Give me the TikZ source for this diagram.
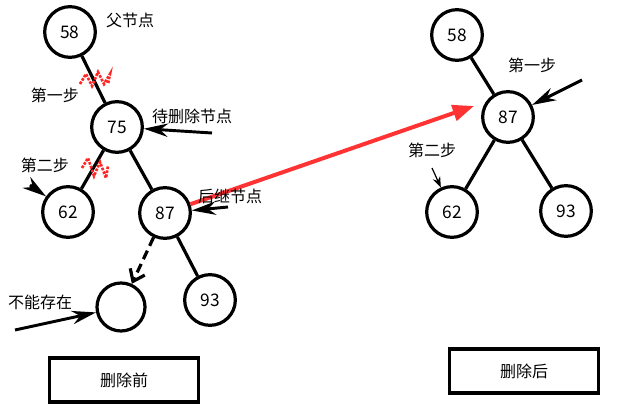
\documentclass[tikz,border=0pt]{standalone}
\usepackage{fontspec}
\setmainfont{Noto Sans CJK SC}
\usetikzlibrary{arrows.meta}
\tikzset{
  key/.style={circle,draw,line width=2.4pt,minimum size=38pt,inner sep=0pt,font=\fontsize{13}{15}\selectfont},
  hole/.style={circle,draw,line width=2.4pt,minimum size=36pt},
  link/.style={line width=2.4pt},
  hint/.style={-{Stealth[length=18pt,width=10pt]},line width=2.2pt},
  caption/.style={draw,line width=2.6pt,minimum width=112pt,minimum height=33pt,font=\fontsize{12}{14}\selectfont},
  note/.style={font=\fontsize{12}{14}\selectfont}
}
\begin{document}
\begin{tikzpicture}[x=0.75pt,y=-0.75pt]
    \useasboundingbox (0,0) rectangle (629,416);
    % Nodes before deletion
    \node[key] (a58) at (70,32) {58};
    \node[key] (a75) at (117,127) {75};
    \node[key] (a62) at (68,212) {62};
    \node[key] (a87) at (165,213) {87};
    \node[hole] (gap) at (121,307) {};
    \node[key] (a93) at (210,300) {93};

    % Nodes after deletion
    \node[key] (b58) at (457,35) {58};
    \node[key] (b87) at (508,117) {87};
    \node[key] (b62) at (452,212) {62};
    \node[key] (b93) at (566,211) {93};

    % Edges
    \draw[link] (a58) -- (a75);
    \draw[link] (a75) -- (a62);
    \draw[link] (a75) -- (a87);
    \draw[link] (a87) -- (a93);
    \draw[link,dash pattern=on 7pt off 4pt,-{Straight Barb[length=8pt,width=12pt]}] (a87) -- (gap);
    \draw[link] (b58) -- (b87);
    \draw[link] (b87) -- (b62);
    \draw[link] (b87) -- (b93);

    % Red marks
    \draw[red!85,line width=2pt,densely dotted] (80,84) -- (86,74) -- (92,86) -- (98,72) -- (104,84) -- (110,74) -- (108,84);
    \draw[red!85,line width=2pt,densely dotted] (82,168) -- (88,158) -- (94,176) -- (100,162) -- (106,178) -- (108,166);
    \coordinate (tip) at (474,106);
    \draw[red!80,line width=3pt,-{Triangle[length=16pt,width=12pt]}] (a87) -- (tip);

    % Labels
    \node[note] (t1) at (130,20) {父节点};
    \node[note] (t2) at (55,95) {第一步};
    \node[note] (t3) at (192,116) {待删除节点};
    \node[note] (t4) at (45,165) {第二步};
    \node[note] (t5) at (230,196) {后继节点};
    \node[note] (t6) at (40,302) {不能存在};
    \node[note] (t7) at (532,65) {第一步};
    \node[note] (t8) at (432,150) {第二步};

    % Pointers
    \coordinate (p3) at (212,133);
    \coordinate (p4) at (30,185);
    \coordinate (p5) at (228,207);
    \coordinate (p6) at (15,330);
    \coordinate (p7) at (582,80);
    \coordinate (p8) at (432,168);
    \draw[hint] (p3) -- (a75);
    \draw[hint] (p4) -- (a62);
    \draw[hint] (p5) -- (a87);
    \draw[hint] (p6) -- (gap);
    \draw[hint] (p7) -- (b87);
    \draw[-{Stealth[length=8pt]},line width=0.9pt] (p8) -- (b62);

    % Captions
    \node[caption] (before) at (124,380) {删除前};
    \node[caption] (after) at (524,371) {删除后};
\end{tikzpicture}
\end{document}
